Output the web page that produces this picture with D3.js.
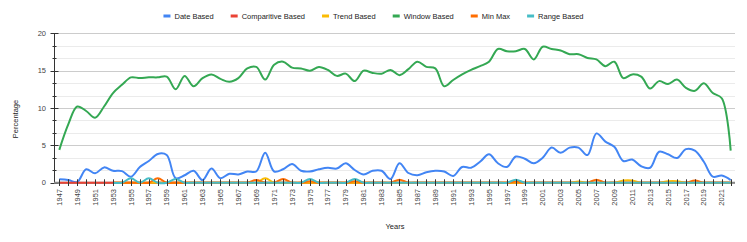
<!DOCTYPE html>
<html>
<head>
<meta charset="utf-8">
<script src="https://cdn.jsdelivr.net/npm/d3@7"></script>
<style>
  body { margin: 0; background: #fff; }
  text { font-family: "Liberation Sans", Arial, sans-serif; }
</style>
</head>
<body>
<div id="chart"></div>
<script>
// data
var years = d3.range(1947, 2023);

var seriesNames = ["Date Based", "Comparitive Based", "Trend Based", "Window Based", "Min Max", "Range Based"];
var seriesColors = ["#4285f4", "#ea4335", "#fbbc04", "#34a853", "#ff6d01", "#46bdc6"];

var dateBased = [0.45, 0.36, 0.1, 1.8, 1.25, 2.05, 1.6, 1.55, 0.8, 2.1,
  2.9, 3.85, 3.7, 0.6, 1.0, 1.6, 0.35, 1.9, 0.6, 1.2,
  1.1, 1.5, 1.5, 4.0, 1.5, 1.8, 2.5, 1.6, 1.5, 1.8,
  2.0, 1.9, 2.6, 1.7, 1.1, 1.6, 1.6, 0.5, 2.6, 1.3,
  1.0, 1.4, 1.6, 1.5, 0.9, 2.1, 2.0, 2.8, 3.8, 2.6,
  2.1, 3.5, 3.2, 2.6, 3.35, 4.7, 4.0, 4.7, 4.7, 3.7,
  6.6, 5.5, 4.8, 2.9, 3.1, 2.2, 2.0, 4.15, 3.8, 3.3,
  4.5, 4.3, 2.8, 0.8, 0.95, 0.35];

var comparitiveBased = years.map(function() { return 0; });

// these three start in 1953 (null before)
var trendBased = {1970: 0.6, 2005: 0.15, 2010: 0.3, 2011: 0.3, 2015: 0.2, 2016: 0.2};
var minMax = {1958: 0.6, 1969: 0.35, 1972: 0.5, 1975: 0.2, 1980: 0.2, 1985: 0.4, 1998: 0.15, 2007: 0.4, 2018: 0.3};
var rangeBased = {1955: 0.6, 1957: 0.6, 1960: 0.5, 1975: 0.5, 1980: 0.5, 1998: 0.4};

var windowBased = [4.4, 7.8, 10.2, 9.6, 8.7, 10.2, 12.0, 13.1, 14.1, 14.0,
  14.1, 14.1, 14.2, 12.5, 14.3, 12.9, 14.0, 14.5, 13.9, 13.5,
  14.0, 15.3, 15.5, 13.8, 15.8, 16.2, 15.4, 15.3, 15.0, 15.5,
  15.1, 14.3, 14.6, 13.6, 15.0, 14.7, 14.6, 15.1, 14.4, 15.2,
  16.2, 15.5, 15.3, 12.9, 13.75, 14.5, 15.1, 15.6, 16.2, 17.9,
  17.6, 17.6, 17.9, 16.5, 18.2, 17.9, 17.7, 17.2, 17.2, 16.7,
  16.5, 15.6, 16.2, 14.0, 14.5, 14.2, 12.6, 13.6, 13.2, 13.8,
  12.7, 12.3, 13.3, 12.0, 11.3, 4.3];

var yTicks = [0, 5, 10, 15, 20];

function sparse(obj) {
  return years.map(function(y) {
    if (y < 1953) return null;
    return obj[y] || 0;
  });
}

var seriesValues = [dateBased, comparitiveBased, sparse(trendBased), windowBased, sparse(minMax), sparse(rangeBased)];

var svgWidth = 747;
var svgHeight = 242;
var plotLeft = 54, plotRight = 735, plotTop = 33.3, plotBottom = 182.7;

var svg = d3.select("#chart")
  .append("svg")
  .attr("width", svgWidth)
  .attr("height", svgHeight);

var x = d3.scaleLinear().domain([1947, 2022]).range([59.3, 730.7]);
var y = d3.scaleLinear().domain([0, 20]).range([plotBottom, plotTop]);

// gridlines (major every 5, two minor between)
var minor = d3.range(0, 20.01, 5 / 3);
svg.append("g")
  .selectAll("line")
  .data(minor)
  .enter()
  .append("line")
  .attr("x1", plotLeft)
  .attr("x2", plotRight)
  .attr("y1", function(d) { return Math.round(y(d)) + 0.5; })
  .attr("y2", function(d) { return Math.round(y(d)) + 0.5; })
  .attr("stroke", function(d) { return Math.abs(d % 5) < 0.01 || Math.abs(d % 5 - 5) < 0.01 ? "#cccccc" : "#ebebeb"; })
  .attr("stroke-width", 1);

// y axis line + ticks
svg.append("line")
  .attr("x1", plotLeft + 0.5).attr("x2", plotLeft + 0.5)
  .attr("y1", plotTop).attr("y2", plotBottom)
  .attr("stroke", "#333");

svg.append("g")
  .selectAll("line")
  .data(minor)
  .enter()
  .append("line")
  .attr("x1", function(d, i) { return i % 3 === 0 ? 50.5 : 52.5; })
  .attr("x2", function(d, i) { return i % 3 === 0 ? 58.5 : 56.5; })
  .attr("y1", function(d) { return Math.round(y(d)) + 0.5; })
  .attr("y2", function(d) { return Math.round(y(d)) + 0.5; })
  .attr("stroke", "#333");

svg.append("g")
  .selectAll("text")
  .data(yTicks)
  .enter()
  .append("text")
  .attr("x", 46)
  .attr("y", function(d) { return y(d); })
  .attr("dy", "0.35em")
  .attr("text-anchor", "end")
  .style("font-size", "7.5px")
  .attr("fill", "#444")
  .text(function(d) { return d; });

// baseline
svg.append("line")
  .attr("x1", plotLeft).attr("x2", plotRight)
  .attr("y1", plotBottom).attr("y2", plotBottom)
  .attr("stroke", "#888")
  .attr("stroke-width", 2);

// series lines
var line = d3.line()
  .defined(function(d) { return d != null; })
  .x(function(d, i) { return x(years[i]); })
  .y(function(d) { return y(d); })
  .curve(d3.curveCatmullRom.alpha(0.5));

svg.append("g")
  .selectAll("path")
  .data(seriesValues)
  .enter()
  .append("path")
  .attr("d", function(d) { return line(d); })
  .attr("fill", "none")
  .attr("stroke", function(d, i) { return seriesColors[i]; })
  .attr("stroke-width", 2)
  .attr("stroke-linejoin", "round");

// x ticks every year
svg.append("g")
  .selectAll("line")
  .data(years)
  .enter()
  .append("line")
  .attr("x1", function(d) { return Math.round(x(d)) + 0.5; })
  .attr("x2", function(d) { return Math.round(x(d)) + 0.5; })
  .attr("y1", 179.3)
  .attr("y2", 186)
  .attr("stroke", "#333");

// x labels every 2 years
svg.append("g")
  .selectAll("text")
  .data(years.filter(function(d) { return (d - 1947) % 2 === 0; }))
  .enter()
  .append("text")
  .attr("transform", function(d) { return "translate(" + x(d) + ",189) rotate(-90)"; })
  .attr("dy", "0.35em")
  .attr("text-anchor", "end")
  .style("font-size", "7.5px")
  .attr("fill", "#444")
  .text(function(d) { return d; });

// axis titles
svg.append("text")
  .attr("x", 395)
  .attr("y", 229)
  .attr("text-anchor", "middle")
  .style("font-size", "7.5px")
  .attr("fill", "#222")
  .text("Years");

svg.append("text")
  .attr("transform", "translate(18,119) rotate(-90)")
  .attr("text-anchor", "middle")
  .style("font-size", "7.5px")
  .attr("fill", "#222")
  .text("Percentage");

// legend, centred on page
var legend = svg.append("g");
var items = legend.selectAll("g")
  .data(seriesNames)
  .enter()
  .append("g");

items.append("rect")
  .attr("width", 7)
  .attr("height", 3)
  .attr("y", 14.5)
  .attr("fill", function(d, i) { return seriesColors[i]; });

items.append("text")
  .attr("x", 11)
  .attr("y", 16)
  .attr("dy", "0.35em")
  .style("font-size", "7.5px")
  .attr("fill", "#222")
  .text(function(d) { return d; });

var pos = 0;
var offsets = [];
items.each(function() {
  var w = d3.select(this).select("text").node().getComputedTextLength();
  offsets.push(pos);
  pos += 11 + w + 17;
});
var total = pos - 17;
var start = svgWidth / 2 - total / 2;
items.attr("transform", function(d, i) { return "translate(" + (start + offsets[i]) + ",0)"; });
</script>
</body>
</html>
